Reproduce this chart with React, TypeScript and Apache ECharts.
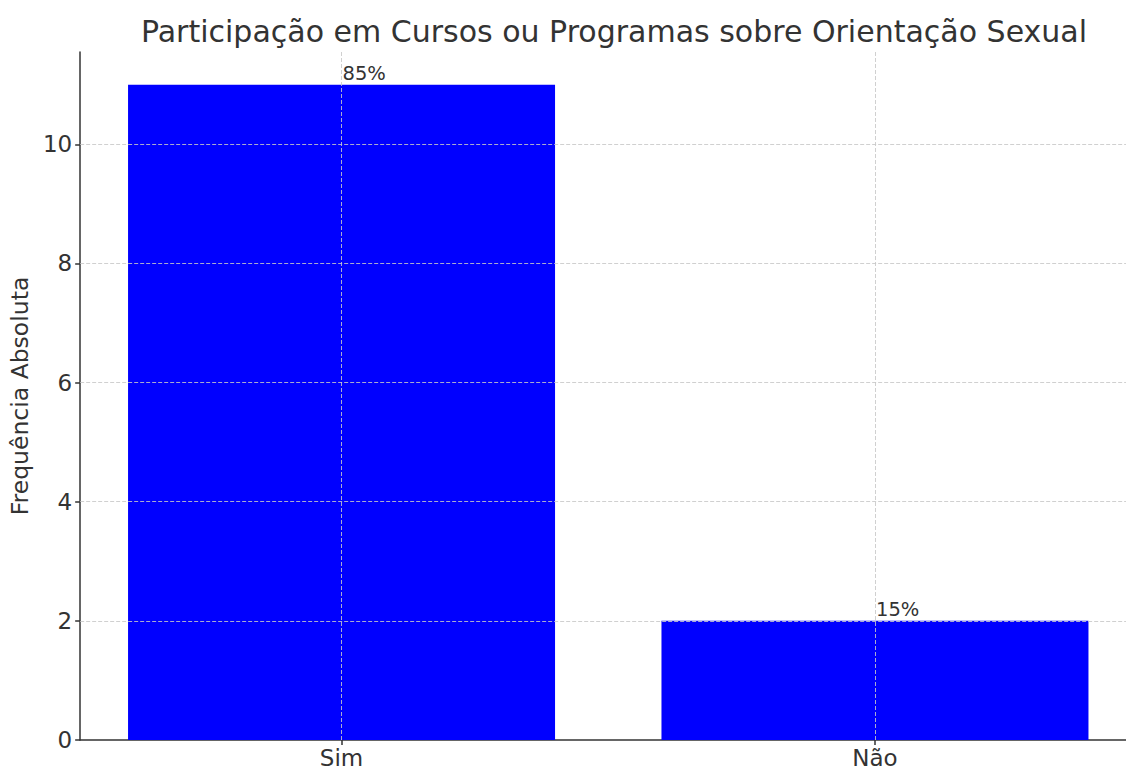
import React, { useEffect, useRef } from 'react';
import * as echarts from 'echarts';

const categories = ['Sim', 'Não'];
const counts = [11, 2];
const percentLabels = ['85%', '15%'];
const yTicks = [0, 2, 4, 6, 8, 10];
const chartTitle = 'Participação em Cursos ou Programas sobre Orientação Sexual';
const yAxisTitle = 'Frequência Absoluta';

export default function App() {
  const ref = useRef<HTMLDivElement>(null);
  useEffect(() => {
    document.body.style.margin = '0';
    const chart = echarts.init(ref.current as HTMLDivElement, null, { renderer: 'svg' });
    const idx = categories.map((_, i) => i);
    const font = 'DejaVu Sans';
    const textColor = '#333333';
    const axisLineStyle = { color: '#333333', width: 1.5 };
    chart.setOption({
      animation: false,
      textStyle: { fontFamily: font },
      title: {
        text: chartTitle,
        left: 609,
        textAlign: 'center',
        top: 11,
        textStyle: { fontSize: 30, fontWeight: 'normal', color: textColor, fontFamily: font },
      },
      grid: { left: 80, right: 0, top: 52, bottom: 25.5 },
      xAxis: {
        type: 'value',
        min: -0.49,
        max: 1.4706,
        axisLine: { show: true, onZero: false, lineStyle: axisLineStyle },
        axisTick: { show: true, customValues: idx, length: 5, lineStyle: axisLineStyle },
        axisLabel: {
          customValues: idx,
          formatter: (v: number) => categories[Math.round(v)] ?? '',
          fontSize: 23,
          color: textColor,
          margin: 6,
          fontFamily: font,
        },
        splitLine: { show: false },
      },
      yAxis: {
        type: 'value',
        min: 0,
        max: 11.55,
        axisLine: { show: true, onZero: false, lineStyle: axisLineStyle },
        axisTick: { show: true, customValues: yTicks, length: 5, lineStyle: axisLineStyle },
        axisLabel: {
          customValues: yTicks,
          fontSize: 23,
          color: textColor,
          margin: 8,
          fontFamily: font,
        },
        splitLine: { show: false },
        name: yAxisTitle,
        nameLocation: 'middle',
        nameGap: 48,
        nameTextStyle: { fontSize: 23.5, color: textColor, fontFamily: font },
      },
      series: [
        {
          type: 'bar',
          data: counts.map((v, i) => [i, v]),
          barWidth: 427,
          itemStyle: { color: '#0000ff' },
          label: {
            show: true,
            formatter: (p: any) => percentLabels[p.dataIndex],
            position: ['50%', 0],
            align: 'left',
            verticalAlign: 'bottom',
            offset: [1, -1],
            fontSize: 19.5,
            color: textColor,
            fontFamily: font,
          },
          markLine: {
            silent: true,
            symbol: 'none',
            label: { show: false },
            z: 10,
            lineStyle: { type: [4, 2], color: '#c8c8c8', width: 1, opacity: 0.85 },
            data: [
              ...yTicks.filter((v) => v > 0).map((v) => ({ yAxis: v })),
              ...idx.map((i) => ({ xAxis: i })),
            ],
          },
        },
      ],
    });
    return () => chart.dispose();
  }, []);
  return <div ref={ref} style={{ width: 1126, height: 769 }} />;
}
